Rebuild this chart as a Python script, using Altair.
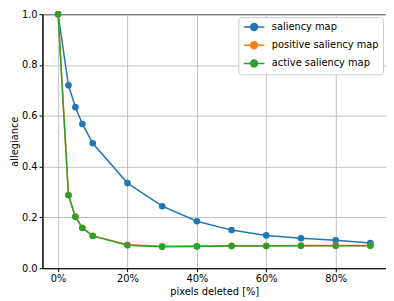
import altair as alt
import pandas as pd

pixels = [0, 3, 5, 7, 10, 20, 30, 40, 50, 60, 70, 80, 90]
saliency = [1.0, 0.72, 0.634, 0.568, 0.492, 0.335, 0.244, 0.185, 0.150, 0.129, 0.118, 0.110, 0.099]
positive = [1.0, 0.288, 0.203, 0.159, 0.128, 0.092, 0.086, 0.087, 0.088, 0.088, 0.089, 0.089, 0.089]
active = [1.0, 0.287, 0.202, 0.158, 0.127, 0.090, 0.084, 0.085, 0.087, 0.087, 0.088, 0.088, 0.088]
series = ["saliency map", "positive saliency map", "active saliency map"]
colors = ["#1f77b4", "#ff7f0e", "#2ca02c"]

rows = []
for name, vals in zip(series, [saliency, positive, active]):
    for p, v in zip(pixels, vals):
        rows.append({"pixels": p, "allegiance": v, "series": name})
df = pd.DataFrame(rows)

font = "DejaVu Sans"
color = alt.Color("series:N", scale=alt.Scale(domain=series, range=colors),
                  legend=alt.Legend(title=None, orient="top-right", offset=3,
                                    symbolType="M-2.1,0L2.1,0M-0.7,0A0.7,0.7 0 1,0 0.7,0A0.7,0.7 0 1,0 -0.7,0",
                                    symbolSize=100, symbolStrokeWidth=1.5,
                                    symbolOffset=6, labelOffset=12,
                                    labelFontSize=10, labelFont=font, labelColor="black",
                                    fillColor="white", strokeColor="#cccccc",
                                    padding=4, rowPadding=4.5, cornerRadius=3))

x = alt.X("pixels:Q", scale=alt.Scale(domain=[-4.5, 94.5], nice=False, zero=False),
          axis=alt.Axis(values=[0, 20, 40, 60, 80], labelExpr="datum.value + '%'",
                        title="pixels deleted [%]"))
y = alt.Y("allegiance:Q", scale=alt.Scale(domain=[0, 1], nice=False),
          axis=alt.Axis(values=[0, 0.2, 0.4, 0.6, 0.8, 1.0], format=".1f", title="allegiance"))

base = alt.Chart(df)
line = base.mark_line(strokeWidth=1.5).encode(x=x, y=y, color=color, order=alt.Order("pixels:Q"))
pts = base.mark_circle(size=45, opacity=1).encode(x=x, y=y, color=color)

chart = alt.layer(line, pts).properties(
    width=349, height=258,
    autosize=alt.AutoSizeParams(type="none"),
    padding={"left": 35, "top": 4, "right": 0, "bottom": 30},
).configure_view(stroke="black", strokeWidth=1).configure_axis(
    labelFont=font, titleFont=font, labelFontSize=10, titleFontSize=10,
    titleFontWeight="normal", labelColor="black", titleColor="black",
    gridColor="#b0b0b0", gridWidth=0.8, domainColor="black", tickColor="black",
    tickSize=3.5, labelPadding=2,
).configure_axisY(titlePadding=2).configure_axisX(titlePadding=3)

chart.save("out.html", embed_options={"renderer": "svg", "actions": False})
